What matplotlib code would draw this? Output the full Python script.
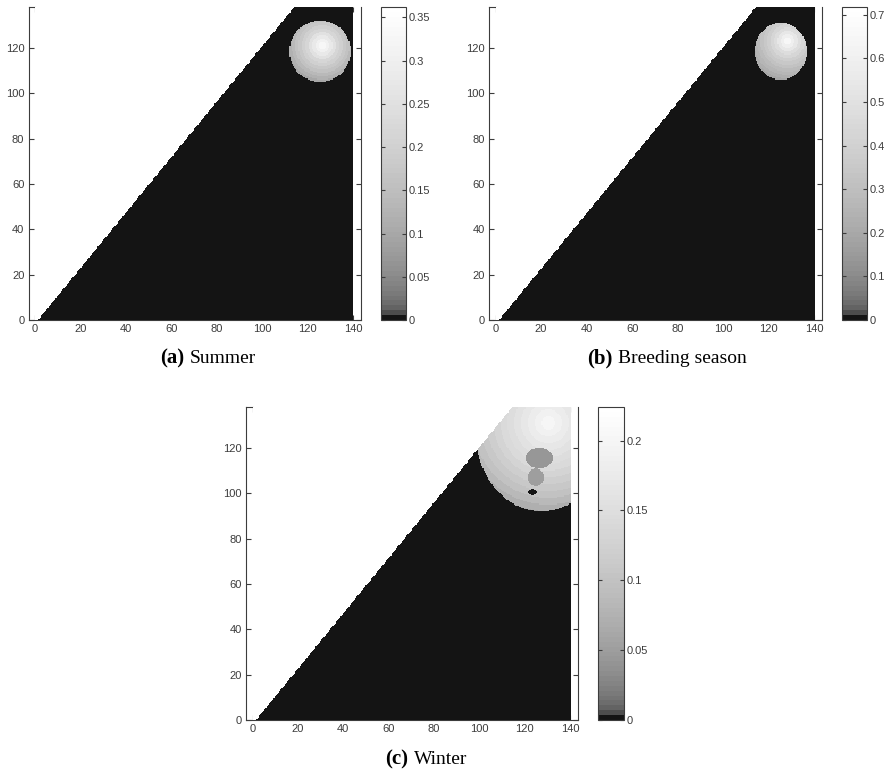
import numpy as np
import matplotlib
matplotlib.use("Agg")
import matplotlib.pyplot as plt
from matplotlib.colors import ListedColormap
from matplotlib.ticker import FuncFormatter

# model grid: domain 0..140 x 0..138, half unit cells
X_MAX = 140
Y_MAX = 138
CELL = 0.5
# edge of the valid region: cells with x < DIAG_X0 + y / DIAG_SLOPE are empty
DIAG_X0 = 1.3
DIAG_SLOPE = 1.223

PANEL_LABELS = ['(a)', '(b)', '(c)']
PANEL_TITLES = ['Summer', 'Breeding season', 'Winter']
CBAR_MAX = [0.362, 0.718, 0.224]
CBAR_TICKS = [[0, 0.05, 0.1, 0.15, 0.2, 0.25, 0.3, 0.35],
              [0, 0.1, 0.2, 0.3, 0.4, 0.5, 0.6, 0.7],
              [0, 0.05, 0.1, 0.15, 0.2]]
XTICKS = [0, 20, 40, 60, 80, 100, 120, 140]
YTICKS = [0, 20, 40, 60, 80, 100, 120]

# occupied area of each season (ellipse centre / radii), and where the values peak
BLOB_CENTER = [(125.5, 118.5), (125.0, 118.5), (127.0, 127.0)]
BLOB_RADII = [(13.5, 13.5), (11.5, 12.5), (29.0, 35.0)]
PEAK_AT = [(126.5, 121.0), (128.0, 123.0), (130.0, 131.0)]
RING_STEP = [1.5, 1.5, 3.0]

# values read going outward from the peak, one per ring
SUMMER_RINGS = [0.33, 0.31, 0.28, 0.25, 0.22, 0.20, 0.18, 0.16, 0.14, 0.12, 0.10, 0.08, 0.06]
BREEDING_RINGS = [0.66, 0.60, 0.54, 0.48, 0.43, 0.39, 0.35, 0.32, 0.29, 0.26, 0.23, 0.20,
                  0.18, 0.16, 0.14]
WINTER_RINGS = [0.20, 0.19, 0.18, 0.17, 0.16, 0.15, 0.14, 0.13, 0.12, 0.11, 0.10,
                0.085, 0.07, 0.055]

# low patches inside the winter area
WINTER_PATCH_CENTER = [(126.0, 115.5), (124.5, 107.0), (123.0, 100.5)]
WINTER_PATCH_RADII = [(6.0, 4.5), (3.5, 4.0), (2.0, 1.3)]
WINTER_PATCH_VALUE = [0.045, 0.05, 0.0]


def build_field(k, rings, patches=None):
    X, Y = np.meshgrid(np.arange(0, X_MAX, CELL) + CELL / 2,
                       np.arange(0, Y_MAX, CELL) + CELL / 2)
    z = np.zeros(X.shape)
    cx, cy = BLOB_CENTER[k]
    rx, ry = BLOB_RADII[k]
    inside = ((X - cx) / rx) ** 2 + ((Y - cy) / ry) ** 2 <= 1
    px, py = PEAK_AT[k]
    ring = (np.hypot(X - px, Y - py) / RING_STEP[k]).astype(int)
    ring = np.minimum(ring, len(rings) - 1)
    z[inside] = np.asarray(rings)[ring[inside]]
    if patches:
        for (pcx, pcy), (prx, pry), val in zip(*patches):
            m = (((X - pcx) / prx) ** 2 + ((Y - pcy) / pry) ** 2 <= 1) & inside
            z[m] = val
    z[X < DIAG_X0 + Y / DIAG_SLOPE] = np.nan
    return z


fields = [build_field(0, SUMMER_RINGS),
          build_field(1, BREEDING_RINGS),
          build_field(2, WINTER_RINGS,
                      (WINTER_PATCH_CENTER, WINTER_PATCH_RADII, WINTER_PATCH_VALUE))]

# gray map: first bin near black, the rest mid gray -> white
levels = [0.08] + [0.3 + 0.7 * (i / 62.0) ** 0.5 for i in range(63)]
cmap = ListedColormap(np.repeat(np.array(levels)[:, None], 3, axis=1))
cmap.set_bad('white')

W, H = 888.0, 771.0
# pixel boxes (left, top, right, bottom) from the picture
AX_BOX = [(28.5, 7, 361, 320), (489, 7, 822, 320), (246, 407, 578, 720)]
CB_BOX = [(381, 7, 406, 320), (842, 7, 867, 320), (598, 407, 624, 720)]
CAPTION_AT = [(160, 363), (587, 363), (385, 764)]

ink = '#3c3c3c'
fmt = FuncFormatter(lambda v, p: '%g' % v)

fig = plt.figure(figsize=(W / 100, H / 100), dpi=100)


def rect(b):
    l, t, r, bt = b
    return [l / W, (H - bt) / H, (r - l) / W, (bt - t) / H]


for k in range(3):
    ax = fig.add_axes(rect(AX_BOX[k]))
    im = ax.imshow(fields[k], origin='lower', extent=(0, X_MAX, 0, Y_MAX), cmap=cmap,
                   vmin=0, vmax=CBAR_MAX[k], interpolation='nearest', aspect='auto',
                   zorder=3)
    ax.set_xlim(-2.9, 143.5)
    ax.set_ylim(0, Y_MAX)
    ax.set_xticks(XTICKS)
    ax.set_yticks(YTICKS)
    ax.tick_params(direction='in', length=3.5, width=0.8, top=True, right=True,
                   labelsize=8, labelcolor=ink, color=ink, pad=3)
    for lab in ax.get_xticklabels() + ax.get_yticklabels():
        lab.set_family(['Liberation Sans', 'DejaVu Sans'])
    for s in ax.spines.values():
        s.set_color(ink)
        s.set_linewidth(0.8)
    # the map hides the top edge, only the corner stub shows
    ax.spines['top'].set_bounds(-2.9, 0)

    cax = fig.add_axes(rect(CB_BOX[k]))
    cb = fig.colorbar(im, cax=cax, ticks=CBAR_TICKS[k], format=fmt)
    cb.outline.set_edgecolor(ink)
    cb.outline.set_linewidth(0.8)
    cax.tick_params(direction='in', length=3, width=0.8, left=True, right=True,
                    labelsize=8, labelcolor=ink, color=ink, pad=2)
    for lab in cax.get_yticklabels():
        lab.set_family(['Liberation Sans', 'DejaVu Sans'])

    # caption: bold panel letter + season name
    cx, cy = CAPTION_AT[k]
    t1 = fig.text(cx / W, (H - cy) / H, PANEL_LABELS[k], fontsize=15, fontweight='bold',
                  family=['Liberation Serif', 'DejaVu Serif'], va='baseline', ha='left')
    fig.canvas.draw()
    bb = t1.get_window_extent()
    fig.text(bb.x1 / fig.dpi / fig.get_figwidth() + 6 / W, (H - cy) / H, PANEL_TITLES[k],
             fontsize=14, family=['Liberation Serif', 'DejaVu Serif'],
             va='baseline', ha='left')

fig.savefig('out.png', dpi=100)
